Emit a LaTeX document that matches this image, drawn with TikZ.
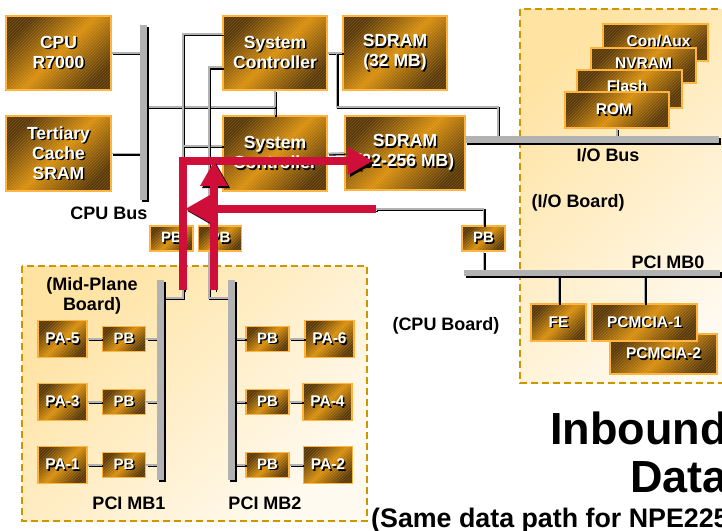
\documentclass[tikz,border=0pt]{standalone}
\usepackage{fontspec}
\setmainfont{Liberation Sans}
\usetikzlibrary{arrows.meta,calc,patterns}

\definecolor{boxdark}{HTML}{5A3806}
\definecolor{boxmid}{HTML}{D98F0C}
\definecolor{boxedge}{HTML}{FFB23A}
\definecolor{boardedge}{HTML}{CC9600}
\definecolor{boardA}{HTML}{FFE3A3}
\definecolor{boardB}{HTML}{FFFAF0}
\definecolor{busgray}{HTML}{B2B2B2}
\definecolor{flowred}{HTML}{CF0F3A}

% white text with a dark drop shadow
\newcommand{\shd}[1]{\leavevmode\rlap{\kern1.5pt\raisebox{-1.5pt}{\textcolor{black}{#1}}}#1}

\tikzset{
	unit/.style={draw=boxedge, line width=1.5pt, top color=boxdark, bottom color=boxdark, middle color=boxmid, shading angle=45, inner sep=0pt, align=center, text=white, font=\fontsize{17.5pt}{20pt}\selectfont\bfseries, postaction={pattern=north east lines, pattern color=white, opacity=0.15}},
	pbbox/.style={unit, minimum width=43pt, minimum height=25pt, font=\fontsize{15pt}{17pt}\selectfont\bfseries},
	pabox/.style={unit, minimum width=49pt, minimum height=37pt, font=\fontsize{15.5pt}{17pt}\selectfont\bfseries},
	card/.style={unit, font=\fontsize{15.5pt}{17pt}\selectfont\bfseries},
	wire/.style={draw=busgray, line width=1.8pt, preaction={draw=black, line width=1.8pt, transform canvas={shift={(1.3pt,-1.3pt)}}}},
	bus/.style={draw=busgray, line width=6.5pt, preaction={draw=black, line width=6.5pt, transform canvas={shift={(2pt,-2pt)}}}},
	flow/.style={draw=flowred, line width=8pt, -{Triangle[width=26pt,length=25pt]}, preaction={draw=black, transform canvas={shift={(2pt,-2pt)}}}},
	board/.style={draw=boardedge, line width=2pt, dash pattern=on 7pt off 4pt, top color=boardA, bottom color=boardB, shading angle=45},
	lbl/.style={inner sep=0pt, align=center, font=\fontsize{18pt}{20pt}\selectfont\bfseries}
}

\begin{document}
\begin{tikzpicture}[x=1pt, y=-1pt, line join=miter]
	\clip (0,0) rectangle (722,530);

	% boards
	\draw[board] (22,266) rectangle (367,521);
	\draw[board] (520,9) rectangle (740,383);

	% CPU board
	\node[unit, minimum width=105pt, minimum height=74pt] (cpu) at (58.5,53) {\shd{CPU}\\\shd{R7000}};
	\node[unit, minimum width=105pt, minimum height=75pt] (cache) at (58.5,153.5) {\shd{Tertiary}\\\shd{Cache}\\\shd{SRAM}};
	\node[unit, minimum width=104pt, minimum height=74pt] (scA) at (275,53) {\shd{System}\\\shd{Controller}};
	\node[unit, minimum width=104pt, minimum height=74pt] (sdramA) at (395,53) {\shd{SDRAM}\\\shd{(32 MB)}};
	\node[unit, minimum width=104pt, minimum height=75pt] (scB) at (275,153.5) {\shd{System}\\\shd{Controller}};
	\node[unit, minimum width=120pt, minimum height=74pt] (sdramB) at (405,153) {\shd{SDRAM}\\\shd{(32-256 MB)}};
	\node[pbbox] (pbC) at (483.5,238.5) {\shd{PB}};

	% I/O board
	\node[card, minimum width=105pt, minimum height=37pt] (conaux) at (655.5,42.5) {\raisebox{4pt}{\kern6pt\shd{Con/Aux}}};
	\node[card, minimum width=105pt, minimum height=35pt] (nvram) at (643.5,65.5) {\raisebox{5pt}{\shd{NVRAM}}};
	\node[card, minimum width=105pt, minimum height=38pt] (flash) at (629.5,89) {\raisebox{6pt}{\shd{Flash}\kern5pt}};
	\node[card, minimum width=104pt, minimum height=36pt] (rom) at (617,110) {\shd{ROM}\kern6pt};
	\node[card, minimum width=55pt, minimum height=37pt] (fe) at (558.5,322.5) {\shd{FE}};
	\node[card, minimum width=107pt, minimum height=40pt] (pcmcia2) at (663.5,354) {\shd{PCMCIA-2}};
	\node[card, minimum width=105pt, minimum height=37pt] (pcmcia1) at (644.5,322.5) {\shd{PCMCIA-1}};

	% mid-plane board
	\node[pabox] (pa5) at (62.5,339) {\shd{PA-5}};
	\node[pbbox] (pbL5) at (124,339) {\shd{PB}};
	\node[pabox] (pa3) at (62.5,402) {\shd{PA-3}};
	\node[pbbox] (pbL3) at (124,402) {\shd{PB}};
	\node[pabox] (pa1) at (62.5,465) {\shd{PA-1}};
	\node[pbbox] (pbL1) at (124,465) {\shd{PB}};
	\node[pbbox] (pbR6) at (267.5,339) {\shd{PB}};
	\node[pabox] (pa6) at (329.5,339) {\shd{PA-6}};
	\node[pbbox] (pbR4) at (267.5,402) {\shd{PB}};
	\node[pabox] (pa4) at (327.5,402) {\shd{PA-4}};
	\node[pbbox] (pbR2) at (267.5,465) {\shd{PB}};
	\node[pabox] (pa2) at (328,465) {\shd{PA-2}};

	\coordinate (cpubusT) at (143.5,25);
	\coordinate (cpubusB) at (143.5,200);
	\coordinate (mb1T) at (160.5,280);
	\coordinate (mb1B) at (160.5,480);
	\coordinate (mb2T) at (231.5,280);
	\coordinate (mb2B) at (231.5,480);
	\coordinate (mb0L) at (464,273);
	\coordinate (mb0R) at (720,273);
	\coordinate (iobusL) at (465,139.5);
	\coordinate (iobusR) at (719,139.5);
	\coordinate (jA) at (183,298);
	\coordinate (jB) at (209,298);
	\coordinate (ioC) at (498,107);
	\coordinate (scmid) at ($(scA.south)!0.65!(scB.north)$);
	\coordinate (scAa) at ($(scA.north west)!0.25!(scA.south west)$);
	\coordinate (scAb) at ($(scA.north west)!0.69!(scA.south west)$);
	\coordinate (scBa) at ($(scB.north west)!0.4!(scB.south west)$);
	\coordinate (sdA) at ($(scA.east)!0.6!(sdramA.west)$);

	% wiring
	\draw[wire] (cpu.east) -- (cpu.east -| cpubusT);
	\draw[wire] (cache.east) -- (cache.east -| cpubusT);
	\draw[wire] (scA.south) -- (scB.north);
	\draw[wire] (scmid) -- (scmid -| cpubusT);
	\draw[wire] (scAa) -| (jA) -- (jA -| mb1T);
	\draw[wire] (scBa) -- (scBa -| jA);
	\draw[wire] (scAb) -| (jB) -- (jB -| mb2T);
	\draw[wire] (scA.east) -- (sdramA.west);
	\draw[wire] (sdA) |- (ioC) -- (ioC |- iobusL);
	\draw[wire] (scB.east) -- (sdramB.west);
	\draw[wire] (rom.south) -- (rom.south |- iobusL);
	\draw[wire] (pbC.south) -- (pbC.south |- mb0L);
	\draw[wire] (fe.north) -- (fe.north |- mb0L);
	\draw[wire] (pcmcia1.north) -- (pcmcia1.north |- mb0L);
	\draw[wire] (pa5) -- (pbL5) -- (pbL5 -| mb1T);
	\draw[wire] (pa3) -- (pbL3) -- (pbL3 -| mb1T);
	\draw[wire] (pa1) -- (pbL1) -- (pbL1 -| mb1T);
	\draw[wire] (pa6) -- (pbR6) -- (pbR6 -| mb2T);
	\draw[wire] (pa4) -- (pbR4) -- (pbR4 -| mb2T);
	\draw[wire] (pa2) -- (pbR2) -- (pbR2 -| mb2T);

	% buses
	\draw[bus] (cpubusT) -- (cpubusB);
	\draw[bus] (mb1T) -- (mb1B);
	\draw[bus] (mb2T) -- (mb2B);
	\draw[bus] (mb0L) -- (mb0R);
	\draw[bus] (iobusL) -- (iobusR);

	\node[pbbox] (pbA) at (171.5,238.5) {\shd{PB}};
	\node[pbbox] (pbB) at (220,238.5) {\shd{PB}};

	% labels
	\node[lbl] (cpubuslbl) at (109,213) {CPU Bus};
	\node[lbl] (midlbl) at (92,296) {(Mid-Plane\\Board)};
	\node[lbl] (mb1lbl) at (129,503) {PCI MB1};
	\node[lbl] (mb2lbl) at (265,503) {PCI MB2};
	\node[lbl] (cpuboardlbl) at (446,326) {(CPU Board)};
	\node[lbl] (ioboardlbl) at (578,203) {(I/O Board)};
	\node[lbl] (iobuslbl) at (608,155) {I/O Bus};
	\node[lbl] (mb0lbl) at (668,262) {PCI MB0};
	\node[anchor=base west, inner sep=0pt, font=\fontsize{45pt}{49pt}\selectfont\bfseries] (title1) at (550,444) {Inbound};
	\node[anchor=base west, inner sep=0pt, font=\fontsize{45pt}{49pt}\selectfont\bfseries] (title2) at (630,492) {Data};
	\node[anchor=base west, inner sep=0pt, font=\fontsize{26.8pt}{30pt}\selectfont\bfseries] (note) at (371,527) {(Same data path for NPE225};

	% data path
	\coordinate (r1s) at (183,290);
	\coordinate (r1e) at (373,161);
	\coordinate (r2s) at (214,290);
	\coordinate (r2e) at (214,161);
	\coordinate (r3s) at (376,209);
	\coordinate (r3e) at (185,209);
	\draw[wire] (r3s) -| (pbC.north);
	\draw[flow] (r1s) |- (r1e);
	\draw[flow] (r3s) -- (r3e);
	\draw[flow] (r2s) -- (r2e);
\end{tikzpicture}
\end{document}
